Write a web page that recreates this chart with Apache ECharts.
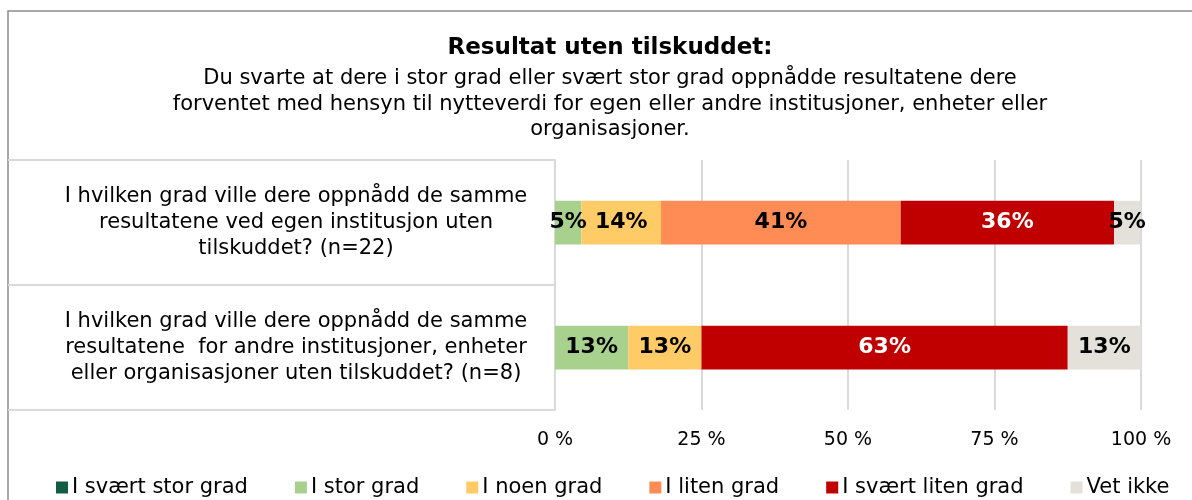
<!DOCTYPE html>
<html>
<head>
<meta charset="utf-8">
<script src="https://cdn.jsdelivr.net/npm/echarts@6/dist/echarts.min.js"></script>
<style>
  html, body { margin: 0; padding: 0; background: #fff; }
  #chart { width: 1192px; height: 500px; }
</style>
</head>
<body>
<div id="chart"></div>
<script>
// kategorier (spørsmål)
const categories = [
  'I hvilken grad ville dere oppnådd de samme\nresultatene ved egen institusjon uten\ntilskuddet? (n=22)',
  'I hvilken grad ville dere oppnådd de samme\nresultatene  for andre institusjoner, enheter\neller organisasjoner uten tilskuddet? (n=8)'
]
const seriesNames = ['I svært stor grad', 'I stor grad', 'I noen grad', 'I liten grad', 'I svært liten grad', 'Vet ikke']
// andeler i prosent, en rad per svaralternativ
const sværtStor = [0, 0]
const stor = [4.5, 12.5]
const noen = [13.6, 12.5]
const liten = [40.9, 0]
const sværtLiten = [36.4, 62.5]
const vetIkke = [4.5, 12.5]
const xTicks = [0, 25, 50, 75, 100]

const colors = ['#145c43', '#a9d18e', '#ffcb67', '#ff8b55', '#c00000', '#e3e1da']
const labelColors = ['#fff', '#000', '#000', '#000', '#fff', '#000']
const values = [sværtStor, stor, noen, liten, sværtLiten, vetIkke]
const font = 'DejaVu Sans'

let myChart = echarts.init(document.getElementById('chart'))

let seriesData = []
values.forEach((item, index) => {
  seriesData.push({
    name: seriesNames[index],
    type: 'bar',
    stack: 'total',
    barWidth: '35%',
    data: item,
    itemStyle: { color: colors[index] },
    label: {
      show: true,
      position: 'inside',
      color: labelColors[index],
      fontFamily: font,
      fontSize: 22,
      fontWeight: 'bold',
      formatter: p => p.value > 0 ? Math.round(p.value) + '%' : ''
    }
  })
})

myChart.setOption({
  animation: false,
  textStyle: { fontFamily: font },
  title: {
    text: 'Resultat uten tilskuddet:',
    subtext: 'Du svarte at dere i stor grad eller svært stor grad oppnådde resultatene dere\nforventet med hensyn til nytteverdi for egen eller andre institusjoner, enheter eller\norganisasjoner.',
    left: 605,
    top: 30,
    textAlign: 'center',
    itemGap: 5,
    textStyle: { fontFamily: font, fontSize: 23, fontWeight: 'bold', color: '#000', lineHeight: 26 },
    subtextStyle: { fontFamily: font, fontSize: 21, color: '#000', lineHeight: 25.5 }
  },
  legend: {
    top: 472,
    left: 51,
    itemWidth: 12,
    itemHeight: 12,
    itemGap: 47,
    icon: 'rect',
    data: seriesNames,
    textStyle: { fontFamily: font, fontSize: 21, color: '#000', padding: [0, 0, 0, -1] }
  },
  grid: { left: 555, right: 51, top: 160, bottom: 90, containLabel: false },
  xAxis: {
    type: 'value',
    min: 0,
    max: 100,
    interval: 25,
    axisLine: { show: false },
    axisTick: { show: false },
    splitLine: { lineStyle: { color: '#d9d9d9', width: 2 } },
    axisLabel: { formatter: '{value} %', fontFamily: font, fontSize: 19, color: '#000', margin: 21 }
  },
  yAxis: {
    type: 'category',
    inverse: true,
    data: categories,
    axisLine: { lineStyle: { color: '#d9d9d9', width: 2 } },
    axisTick: { show: true, length: 547, lineStyle: { color: '#d9d9d9', width: 2 } },
    axisLabel: { align: 'center', margin: 259, fontFamily: font, fontSize: 21, color: '#000', lineHeight: 26, padding: [4, 0, 0, 0] }
  },
  graphic: [{
    type: 'rect',
    shape: { x: 8, y: 11, width: 1400, height: 700 },
    style: { fill: 'none', stroke: '#8c8c8c', lineWidth: 1.5 },
    silent: true
  }],
  series: seriesData
})
</script>
</body>
</html>
